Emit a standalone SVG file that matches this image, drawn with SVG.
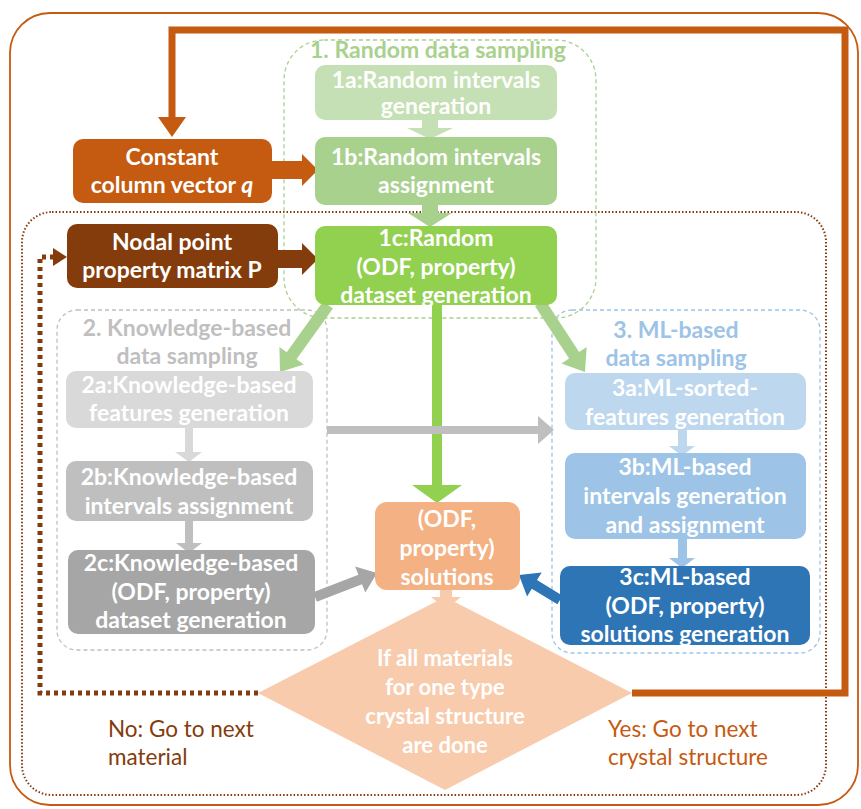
<svg xmlns="http://www.w3.org/2000/svg" width="861" height="809" viewBox="0 0 861 809">
<style>
.t{font-family:Lato,"Open Sans",sans-serif;font-weight:bold;font-size:23px;fill:#fff;text-anchor:middle}
.d{font-family:Lato,"Open Sans",sans-serif;font-weight:bold;font-size:22px;fill:#fff;text-anchor:middle}
.h{font-family:Lato,"Open Sans",sans-serif;font-weight:bold;font-size:23px;text-anchor:middle}
.n{font-family:Lato,"Open Sans",sans-serif;font-size:22.5px}
.frame{fill:none;stroke-width:1.3;stroke-dasharray:4 3}
</style>
<rect width="861" height="809" fill="#fff"/>
<g id="frames">
<rect x="10" y="13" width="848" height="792" rx="40" fill="none" stroke="#C55A11" stroke-width="1.8"/>
<rect x="22" y="212" width="804" height="583" rx="30" fill="none" stroke="#843C0C" stroke-width="2" stroke-dasharray="1.5 2"/>
<rect id="g1" x="284" y="40" width="312" height="278" rx="40" class="frame" stroke="#A9D18E"/>
<rect id="g2" x="57" y="310" width="270" height="340" rx="20" class="frame" stroke="#BFBFBF"/>
<rect id="g3" x="552" y="310" width="268" height="343" rx="20" class="frame" stroke="#9DC3E6"/>
</g>
<g id="connectors">
<path d="M632,693 H845 V30 H172 V120" fill="none" stroke="#C55A11" stroke-width="7"/>
<polygon points="158,117 186,117 172,137" fill="#C55A11"/>
<path d="M258,693 H40 V257 H54" fill="none" stroke="#843C0C" stroke-width="5" stroke-dasharray="4 4"/>
<polygon points="53,248 67,257 53,266" fill="#843C0C"/>
<polygon points="272,161 302,161 302,154 318,170 302,186 302,179 272,179" fill="#C55A11"/>
<polygon points="278,250 302,250 302,243 318,259 302,275 302,268 278,268" fill="#843C0C"/>
<polygon points="422,120 438,120 438,128 453,128 430,139 407,128 422,128" fill="#C5E0B4"/>
<polygon points="422,205 438,205 438,213 452,213 430,227 408,213 422,213" fill="#A9D18E"/>
<polygon points="432,305 442,305 442,485 462,485 437,503 412,485 432,485" fill="#92D050"/>
<polygon points="332.9,308.5 296.5,359.2 303.8,364.4 280,372 279.4,347 286.7,352.2 323.1,301.5" fill="#A9D18E"/>
<polygon points="535,306.3 569.1,358.6 561.5,363.5 585,372 586.7,347.1 579.1,352 545,299.7" fill="#A9D18E"/>
<polygon points="327,426 538,426 538,416 554,430 538,444 538,434 327,434" fill="#BFBFBF"/>
<polygon points="185,428 193,428 193,452 202,452 189,462 175,452 185,452" fill="#D9D9D9"/>
<polygon points="185,521 193,521 193,543 202,543 189,553 176,543 185,543" fill="#BFBFBF"/>
<polygon points="678,430 687,430 687,446 695,446 682,456 669,446 678,446" fill="#BDD7EE"/>
<polygon points="678,539 687,539 687,558 695,558 682,568 669,558 678,558" fill="#9DC3E6"/>
<polygon points="316.8,601.7 362,584.2 365.3,592.5 377,573 355.1,566.5 358.4,574.8 313.2,592.3" fill="#A6A6A6"/>
<polygon points="562.6,595.7 537,580.1 541.7,572.4 519,575 527.1,596.4 531.8,588.7 557.4,604.3" fill="#2E75B6"/>
<polygon points="440,590 452,590 452,597 461,597 446,609 431,597 440,597" fill="#F8CBAD"/>
</g>
<g id="n1a"><rect x="315" y="65" width="242" height="55" rx="10" fill="#C5E0B4"/><text class="t" x="436" y="88">1a:Random intervals</text><text class="t" x="436" y="114">generation</text></g>
<g id="n1b"><rect x="315" y="137" width="242" height="68" rx="10" fill="#A9D18E"/><text class="t" x="436" y="165">1b:Random intervals</text><text class="t" x="436" y="193">assignment</text></g>
<g id="n1c"><rect x="315" y="226" width="242" height="79" rx="10" fill="#92D050"/><text class="t" x="436" y="246">1c:Random</text><text class="t" x="436" y="275">(ODF, property)</text><text class="t" x="436" y="303">dataset generation</text></g>
<g id="nq"><rect x="73" y="139" width="199" height="64" rx="10" fill="#C55A11"/><text class="t" x="172" y="165">Constant</text><text class="t" x="172" y="193">column vector <tspan font-style="italic">q</tspan></text></g>
<g id="nP"><rect x="67" y="224" width="211" height="64" rx="10" fill="#843C0C"/><text class="t" x="172" y="250">Nodal point</text><text class="t" x="172" y="278">property matrix P</text></g>
<g id="t1"><text class="h" x="438" y="58" fill="#A9D18E">1. Random data sampling</text></g>
<g id="t2"><text class="h" x="187" y="336" fill="#BFBFBF">2. Knowledge-based</text><text class="h" x="187" y="364" fill="#BFBFBF">data sampling</text></g>
<g id="t3"><text class="h" x="676" y="338" fill="#9DC3E6">3. ML-based</text><text class="h" x="676" y="366" fill="#9DC3E6">data sampling</text></g>
<g id="n2a"><rect x="66" y="371" width="247" height="57" rx="10" fill="#D9D9D9"/><text class="t" x="189" y="393">2a:Knowledge-based</text><text class="t" x="189" y="421">features generation</text></g>
<g id="n2b"><rect x="66" y="461" width="247" height="60" rx="10" fill="#BFBFBF"/><text class="t" x="189" y="485">2b:Knowledge-based</text><text class="t" x="189" y="514">intervals assignment</text></g>
<g id="n2c"><rect x="68" y="550" width="247" height="84" rx="10" fill="#A6A6A6"/><text class="t" x="191" y="571">2c:Knowledge-based</text><text class="t" x="191" y="600">(ODF, property)</text><text class="t" x="191" y="628">dataset generation</text></g>
<g id="nsol"><rect x="375" y="502" width="145" height="88" rx="12" fill="#F4B183"/><text class="t" x="447" y="527">(ODF,</text><text class="t" x="447" y="556">property)</text><text class="t" x="447" y="585">solutions</text></g>
<g id="n3a"><rect x="565" y="373" width="241" height="57" rx="10" fill="#BDD7EE"/><text class="t" x="685" y="396">3a:ML-sorted-</text><text class="t" x="685" y="425">features generation</text></g>
<g id="n3b"><rect x="565" y="453" width="241" height="86" rx="10" fill="#9DC3E6"/><text class="t" x="685" y="475">3b:ML-based</text><text class="t" x="685" y="504">intervals generation</text><text class="t" x="685" y="533">and assignment</text></g>
<g id="n3c"><rect x="560" y="566" width="250" height="79" rx="10" fill="#2E75B6"/><text class="t" x="685" y="585">3c:ML-based</text><text class="t" x="685" y="614">(ODF, property)</text><text class="t" x="685" y="642">solutions generation</text></g>
<g id="ndiamond"><polygon points="445,597 632,693 445,790 258,693" fill="#F8CBAD"/><text class="d" x="445" y="666">If all materials</text><text class="d" x="445" y="695">for one type</text><text class="d" x="445" y="724">crystal structure</text><text class="d" x="445" y="753">are done</text></g>
<g id="lno"><text class="n" x="108" y="737" fill="#843C0C">No: Go to next</text><text class="n" x="108" y="765" fill="#843C0C">material</text></g>
<g id="lyes"><text class="n" x="608" y="737" fill="#C55A11">Yes: Go to next</text><text class="n" x="608" y="765" fill="#C55A11">crystal structure</text></g>
</svg>
